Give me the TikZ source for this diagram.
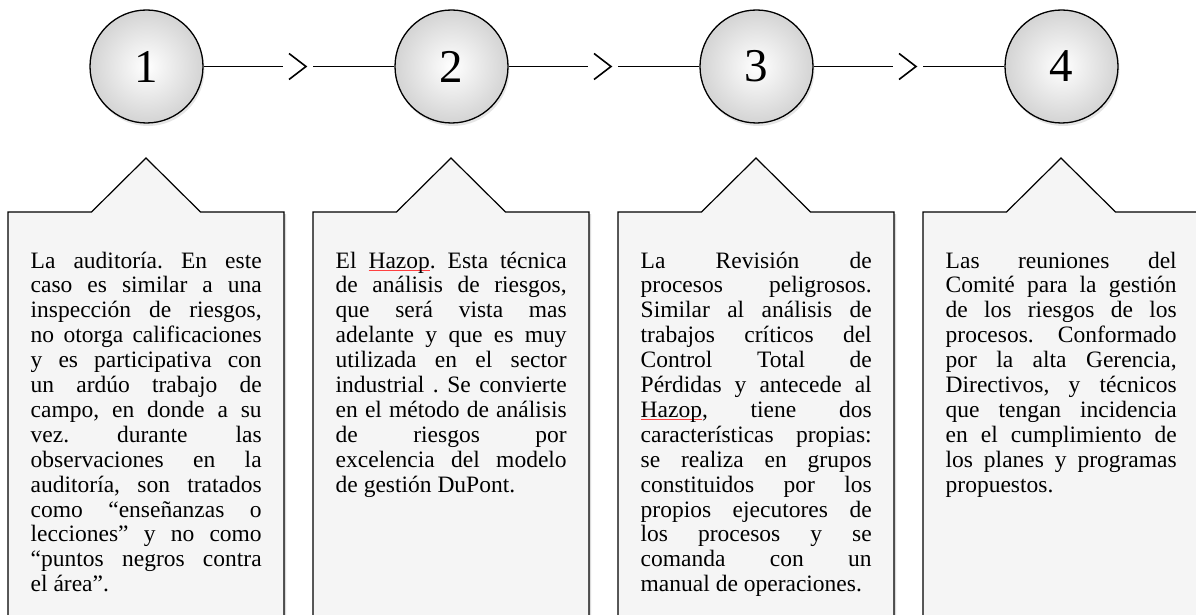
\documentclass[tikz,border=0pt]{standalone}
\usepackage{fontspec}
\setmainfont{Liberation Serif}
\usetikzlibrary{calc,shadows}
\newcommand\jl[1]{\hbox to 231pt{\spaceskip=0.25em plus 1fil minus 0.04em\relax #1}}
\newcommand\lastl[1]{\hbox{#1}}
\newcommand\hzp{\setbox0\hbox{Hazop}\rlap{\color{red!75}\rule[-2.5pt]{\wd0}{0.5pt}}Hazop}
\newcommand\boxtext[1]{\vtop{\frenchspacing\fontsize{23.5}{24.9}\selectfont\baselineskip=24.9pt\lineskiplimit=-20pt\lineskip=0pt #1}}
\tikzset{
  ball/.style={circle, draw=black, line width=1.3pt, minimum size=113pt, inner sep=0pt,
    inner color=white, outer color=black!17,
    drop shadow={shadow xshift=1.5pt, shadow yshift=-3pt, opacity=.2},
    font=\fontsize{47}{47}\selectfont},
  conn/.style={draw=black, line width=1.3pt},
  chev/.style={draw=black, line width=1.6pt, line join=miter},
  callout/.style={draw=black, line width=1.2pt, fill=black!4, line join=miter,
    drop shadow={shadow xshift=2pt, shadow yshift=-2pt, opacity=.28}},
  txt/.style={anchor=base west, inner sep=0pt}
}
\begin{document}
\begin{tikzpicture}[x=1pt,y=-1pt]
\useasboundingbox (0,0) rectangle (1196,615);
\clip (0,0) rectangle (1196,615);
\fill[white] (0,0) rectangle (1196,615);

% callout boxes
\foreach \k in {0,1,2,3}{
  \pgfmathsetmacro\L{8+305*\k}
  \pgfmathsetmacro\C{\L+138}
  \pgfmathsetmacro\R{\L+276}
  \path[callout] (\L,640) -- (\L,212) -- ({\C-54.5},212) -- (\C,158) -- ({\C+54.5},212)
     -- (\R,212) -- (\R,640) -- cycle;
}

% circles
\node[ball] (c1) at (146.5,66.5) {1};
\node[ball] (c2) at (451.5,66.5) {2};
\node[ball] (c3) at (756.5,66.5) {3};
\node[ball] (c4) at (1061.5,66.5) {4};

\coordinate (m1) at ($(c1)!0.5!(c2)$);
\coordinate (m2) at ($(c2)!0.5!(c3)$);
\coordinate (m3) at ($(c3)!0.5!(c4)$);

\draw[conn] (c1.east) -- ([xshift=-16pt]m1);
\draw[conn] ([xshift=14pt]m1) -- (c2.west);
\draw[chev] ([xshift=-10pt,yshift=13pt]m1) -- ([xshift=7pt]m1) -- ([xshift=-10pt,yshift=-13pt]m1);

\draw[conn] (c2.east) -- ([xshift=-16pt]m2);
\draw[conn] ([xshift=14pt]m2) -- (c3.west);
\draw[chev] ([xshift=-10pt,yshift=13pt]m2) -- ([xshift=7pt]m2) -- ([xshift=-10pt,yshift=-13pt]m2);

\draw[conn] (c3.east) -- ([xshift=-16pt]m3);
\draw[conn] ([xshift=14pt]m3) -- (c4.west);
\draw[chev] ([xshift=-10pt,yshift=13pt]m3) -- ([xshift=7pt]m3) -- ([xshift=-10pt,yshift=-13pt]m3);

% texts
\node[txt] (t1) at (30.5,268) {\boxtext{%
\jl{La auditoría. En este}
\jl{caso es similar a una}
\jl{inspección de riesgos,}
\jl{no otorga calificaciones}
\jl{y es participativa con}
\jl{un ardúo trabajo de}
\jl{campo, en donde a su}
\jl{vez. durante las}
\jl{observaciones en la}
\jl{auditoría, son tratados}
\jl{como “enseñanzas o}
\jl{lecciones” y no como}
\jl{“puntos negros contra}
\lastl{el área”.}}};

\node[txt] (t2) at (335.5,268) {\boxtext{%
\jl{El \hzp. Esta técnica}
\jl{de análisis de riesgos,}
\jl{que será vista mas}
\jl{adelante y que es muy}
\jl{utilizada en el sector}
\jl{industrial . Se convierte}
\jl{en el método de análisis}
\jl{de riesgos por}
\jl{excelencia del modelo}
\lastl{de gestión DuPont.}}};

\node[txt] (t3) at (640.5,268) {\boxtext{%
\jl{La Revisión de}
\jl{procesos peligrosos.}
\jl{Similar al análisis de}
\jl{trabajos críticos del}
\jl{Control Total de}
\jl{Pérdidas y antecede al}
\jl{\hzp, tiene dos}
\jl{características propias:}
\jl{se realiza en grupos}
\jl{constituidos por los}
\jl{propios ejecutores de}
\jl{los procesos y se}
\jl{comanda con un}
\lastl{manual de operaciones.}}};

\node[txt] (t4) at (945.5,268) {\boxtext{%
\jl{Las reuniones del}
\jl{Comité para la gestión}
\jl{de los riesgos de los}
\jl{procesos. Conformado}
\jl{por la alta Gerencia,}
\jl{Directivos, y técnicos}
\jl{que tengan incidencia}
\jl{en el cumplimiento de}
\jl{los planes y programas}
\lastl{propuestos.}}};
\end{tikzpicture}
\end{document}
